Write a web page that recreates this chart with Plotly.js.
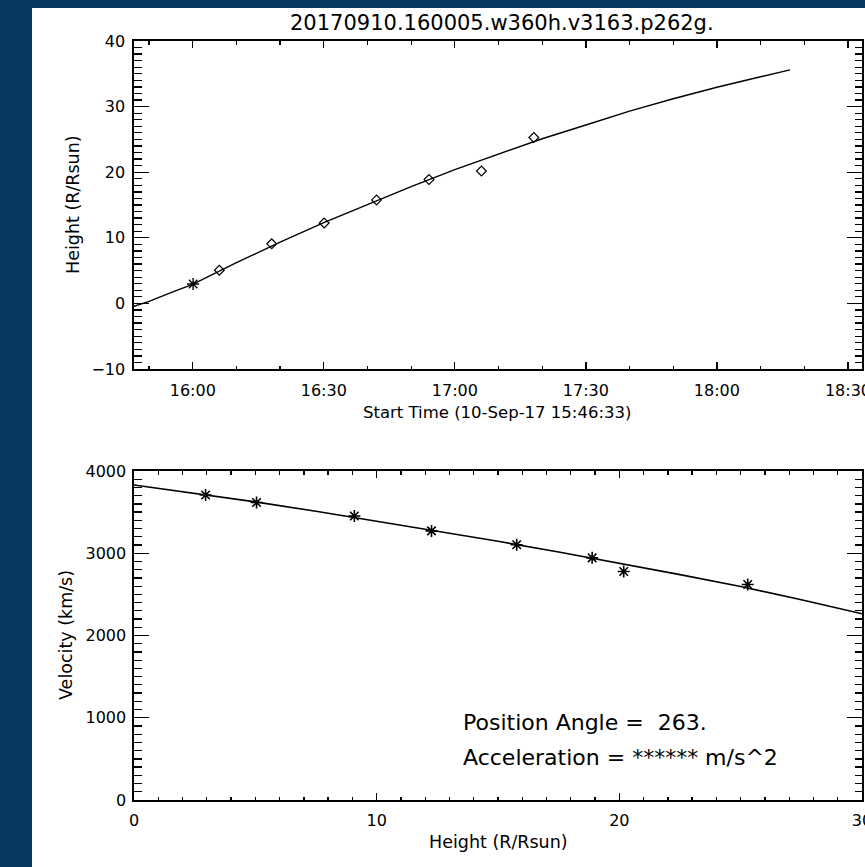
<!DOCTYPE html>
<html><head><meta charset="utf-8">
<script src="https://cdn.plot.ly/plotly-3.0.1.min.js"></script>
<style>
html,body{margin:0;padding:0;background:#083760;width:865px;height:867px;overflow:hidden;}
#plot{position:absolute;left:32px;top:8px;width:833px;height:859px;}
</style></head><body><div id="plot"></div>
<script>
// ---- data ----
const obsTimes = ['2017-09-10 16:00:05','2017-09-10 16:06:05','2017-09-10 16:18:05','2017-09-10 16:30:05',
                  '2017-09-10 16:42:05','2017-09-10 16:54:05','2017-09-10 17:06:05','2017-09-10 17:18:05'];
const obsInstrument = ['C2','C3','C3','C3','C3','C3','C3','C3'];
const obsHeights = [2.95, 5.05, 9.08, 12.26, 15.77, 18.88, 20.18, 25.29];
const obsVelocities = [3708, 3617, 3453, 3272, 3104, 2944, 2778, 2620];

const fitTimes = ['2017-09-10 15:46:33','2017-09-10 15:50:00','2017-09-10 15:55:00','2017-09-10 16:00:05',
                  '2017-09-10 16:10:00','2017-09-10 16:20:00','2017-09-10 16:30:00','2017-09-10 16:40:00',
                  '2017-09-10 16:50:00','2017-09-10 17:00:00','2017-09-10 17:10:00','2017-09-10 17:20:00',
                  '2017-09-10 17:30:00','2017-09-10 17:40:00','2017-09-10 17:50:00','2017-09-10 18:00:00',
                  '2017-09-10 18:10:00','2017-09-10 18:16:44'];
const fitHeights = [-0.45, 0.3, 1.65, 2.95, 6.2, 9.35, 12.3, 15.1, 17.8, 20.4, 22.8, 25.1,
                    27.2, 29.3, 31.2, 32.95, 34.55, 35.6];

const velFitHeights = [0, 2.5, 5, 7.5, 10, 12.5, 15, 17.5, 20, 22.5, 25, 27.5, 30];
const velFitValues = [3830, 3730, 3625, 3510, 3390, 3270, 3145, 3015, 2880, 2740, 2595, 2435, 2265];

const timeRange = ['2017-09-10 15:46:33', '2017-09-10 18:33:13'];
const heightRange = [-10, 40];
const heightAxisRange = [0, 30];
const velocityRange = [0, 4000];

const titleText = '20170910.160005.w360h.v3163.p262g.';
const xTitleTop = 'Start Time (10-Sep-17 15:46:33)';
const yTitleTop = 'Height (R/Rsun)';
const xTitleBottom = 'Height (R/Rsun)';
const yTitleBottom = 'Velocity (km/s)';
const infoLines = ['Position Angle =\u00a0 263.', 'Acceleration = ****** m/s^2'];

// ---- layout helpers (window pixels -> paper fractions) ----
const PL = 134, PW = 728, PB = 800, PH = 759;
const px = w => (w - PL) / PW;
const py = h => (PB - h) / PH;

const FONT = 'DejaVu Sans';
const tickFont = {family: FONT, size: 16, color: '#000'};

function axisCommon(extra) {
  return Object.assign({
    showline: true, linecolor: '#000', linewidth: 1.6, mirror: 'ticks',
    ticks: 'inside', tickcolor: '#000', tickwidth: 1.3, ticklabeloverflow: 'allow',
    showgrid: false, zeroline: false, tickfont: tickFont, fixedrange: true
  }, extra);
}

const c2 = obsInstrument.map((s, i) => s === 'C2' ? i : -1).filter(i => i >= 0);
const c3 = obsInstrument.map((s, i) => s === 'C3' ? i : -1).filter(i => i >= 0);

const traces = [
  {x: fitTimes, y: fitHeights, mode: 'lines', line: {color: '#000', width: 1.4}, xaxis: 'x', yaxis: 'y'},
  {x: c2.map(i => obsTimes[i]), y: c2.map(i => obsHeights[i]), mode: 'markers',
   marker: {symbol: 'asterisk-open', size: 10, color: '#000', line: {color: '#000', width: 1.4}}, xaxis: 'x', yaxis: 'y'},
  {x: c3.map(i => obsTimes[i]), y: c3.map(i => obsHeights[i]), mode: 'markers',
   marker: {symbol: 'diamond-open', size: 7.5, color: '#000', line: {color: '#000', width: 1.2}}, xaxis: 'x', yaxis: 'y'},
  {x: velFitHeights, y: velFitValues, mode: 'lines', line: {color: '#000', width: 1.6}, xaxis: 'x2', yaxis: 'y2'},
  {x: obsHeights, y: obsVelocities, mode: 'markers',
   marker: {symbol: 'asterisk-open', size: 10, color: '#000', line: {color: '#000', width: 1.6}}, xaxis: 'x2', yaxis: 'y2'}
];

const layout = {
  width: 833, height: 859,
  margin: {l: 102, r: 3, t: 33, b: 67, pad: 0},
  paper_bgcolor: '#fff', plot_bgcolor: '#fff',
  showlegend: false, hovermode: false,
  xaxis: axisCommon({
    type: 'date', anchor: 'y', domain: [0, 1], range: timeRange,
    tick0: '2017-09-10 16:00:00', dtick: 1800000, tickformat: '%H:%M', ticklen: 7,
    ticklabelstandoff: 6,
    minor: {ticks: 'inside', ticklen: 3.5, tick0: '2017-09-10 16:00:00', dtick: 600000, tickcolor: '#000', tickwidth: 1.3, showgrid: false}
  }),
  yaxis: axisCommon({
    anchor: 'x', domain: [py(369), 1], range: heightRange, tick0: 0, dtick: 10, ticklen: 15,
    ticklabelstandoff: 4,
    minor: {ticks: 'inside', ticklen: 7.5, dtick: 1, tickcolor: '#000', tickwidth: 1.3, showgrid: false}
  }),
  xaxis2: axisCommon({
    anchor: 'y2', domain: [0, 1], range: heightAxisRange, tick0: 0, dtick: 10, ticklen: 7,
    ticklabelstandoff: 5,
    minor: {ticks: 'inside', ticklen: 3.5, dtick: 1, tickcolor: '#000', tickwidth: 1.3, showgrid: false}
  }),
  yaxis2: axisCommon({
    anchor: 'x2', domain: [0, py(471)], range: velocityRange, tick0: 0, dtick: 1000, ticklen: 15,
    ticklabelstandoff: 3,
    minor: {ticks: 'inside', ticklen: 7.5, dtick: 100, tickcolor: '#000', tickwidth: 1.3, showgrid: false}
  }),
  annotations: [
    {text: titleText, xref: 'paper', yref: 'paper', x: px(502), y: py(23), xanchor: 'center', yanchor: 'middle',
     showarrow: false, font: {family: FONT, size: 21, color: '#000'}},
    {text: xTitleTop, xref: 'paper', yref: 'paper', x: px(497), y: py(412), xanchor: 'center', yanchor: 'middle',
     showarrow: false, font: {family: FONT, size: 16.5, color: '#000'}},
    {text: yTitleTop, xref: 'paper', yref: 'paper', x: px(73), y: py(205), xanchor: 'center', yanchor: 'middle',
     textangle: -90, showarrow: false, font: {family: FONT, size: 17.5, color: '#000'}},
    {text: xTitleBottom, xref: 'paper', yref: 'paper', x: px(498), y: py(842), xanchor: 'center', yanchor: 'middle',
     showarrow: false, font: {family: FONT, size: 17.5, color: '#000'}},
    {text: yTitleBottom, xref: 'paper', yref: 'paper', x: px(66), y: py(635), xanchor: 'center', yanchor: 'middle',
     textangle: -90, showarrow: false, font: {family: FONT, size: 17.5, color: '#000'}},
    {text: infoLines[0], xref: 'paper', yref: 'paper', x: px(461), y: py(722), xanchor: 'left', yanchor: 'middle',
     showarrow: false, font: {family: FONT, size: 22, color: '#000'}},
    {text: infoLines[1], xref: 'paper', yref: 'paper', x: px(461), y: py(757), xanchor: 'left', yanchor: 'middle',
     showarrow: false, font: {family: FONT, size: 22, color: '#000'}}
  ]
};

Plotly.newPlot('plot', traces, layout, {staticPlot: true, displayModeBar: false});
</script></body></html>
